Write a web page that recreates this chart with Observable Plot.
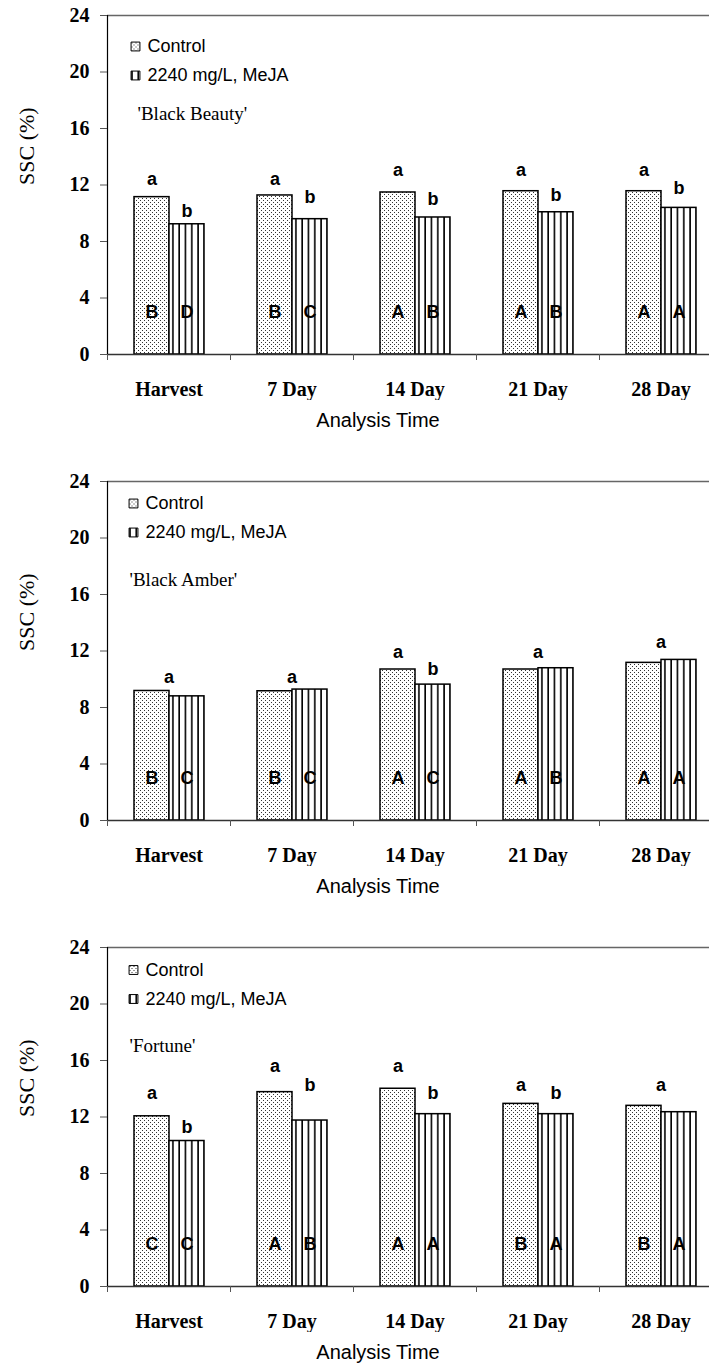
<!DOCTYPE html>
<html><head><meta charset="utf-8">
<script src="https://cdn.jsdelivr.net/npm/d3@7"></script>
<script src="https://cdn.jsdelivr.net/npm/@observablehq/plot@0.6"></script>
<style>
html,body{margin:0;padding:0;background:#fff;overflow:hidden;}
#root{width:709px;}
.panel{position:relative;width:709px;height:466px;overflow:hidden;}
.panel svg{display:block;}
.xtitle{position:absolute;font-family:"Liberation Sans",Arial,sans-serif;font-size:20px;white-space:nowrap;transform:translate(-50%,-50%);color:#000;}
</style></head><body>
<svg width="0" height="0" style="position:absolute">
<defs>
<pattern id="dots" patternUnits="userSpaceOnUse" width="4" height="4">
<rect width="4" height="4" fill="#fff"/>
<rect x="0" y="0" width="1" height="1" fill="#333"/>
<rect x="2" y="2" width="1" height="1" fill="#333"/>
</pattern>
<pattern id="stripes" patternUnits="userSpaceOnUse" width="6.3" height="6">
<rect width="6.3" height="6" fill="#fff"/>
<rect x="2" y="0" width="1.6" height="6" fill="#000"/>
</pattern>
</defs></svg>
<div id="root"></div>
<script>
// ---------- data ----------
const days = ["Harvest", "7 Day", "14 Day", "21 Day", "28 Day"];
const treatments = ["Control", "2240 mg/L, MeJA"];
const cultivars = ["'Black Beauty'", "'Black Amber'", "'Fortune'"];
const yTicks = [0, 4, 8, 12, 16, 20, 24];
const yTitle = "SSC (%)";
const xTitle = "Analysis Time";
const groupLetterLevel = 3; // SSC level where the upper-case letters sit

const bbControl = [11.14, 11.26, 11.47, 11.56, 11.56];
const bbMeja = [9.22, 9.58, 9.70, 10.07, 10.38];
const bbControlGroup = ["B", "B", "A", "A", "A"];
const bbMejaGroup = ["D", "C", "B", "B", "A"];
// [day, treatment index (2 = both), letter, SSC level]
const bbLetters = [
  ["Harvest", 0, "a", 12.44], ["Harvest", 1, "b", 10.12],
  ["7 Day", 0, "a", 12.44], ["7 Day", 1, "b", 11.14],
  ["14 Day", 0, "a", 13.03], ["14 Day", 1, "b", 11.02],
  ["21 Day", 0, "a", 13.03], ["21 Day", 1, "b", 11.26],
  ["28 Day", 0, "a", 13.03], ["28 Day", 1, "b", 11.80]
];

const baControl = [9.17, 9.15, 10.69, 10.69, 11.16];
const baMeja = [8.79, 9.27, 9.62, 10.78, 11.37];
const baControlGroup = ["B", "B", "A", "A", "A"];
const baMejaGroup = ["C", "C", "C", "B", "A"];
const baLetters = [
  ["Harvest", 2, "a", 10.16], ["7 Day", 2, "a", 10.16],
  ["14 Day", 0, "a", 11.94], ["14 Day", 1, "b", 10.71],
  ["21 Day", 2, "a", 11.94], ["28 Day", 2, "a", 12.60]
];

const fControl = [12.05, 13.76, 14.0, 12.93, 12.79];
const fMeja = [10.30, 11.75, 12.2, 12.2, 12.34];
const fControlGroup = ["C", "A", "A", "B", "B"];
const fMejaGroup = ["C", "B", "A", "A", "A"];
const fLetters = [
  ["Harvest", 0, "a", 13.65], ["Harvest", 1, "b", 11.27],
  ["7 Day", 0, "a", 15.59], ["7 Day", 1, "b", 14.24],
  ["14 Day", 0, "a", 15.59], ["14 Day", 1, "b", 13.69],
  ["21 Day", 0, "a", 14.24], ["21 Day", 1, "b", 13.69],
  ["28 Day", 2, "a", 14.24]
];

// ---------- drawing ----------
const SERIF = "'Liberation Serif','Times New Roman',serif";
const SANS = "'Liberation Sans',Arial,sans-serif";
const W = 709, H = 400, ML = 107, MR = -13, MT = 15, MB = 46;
const bw = (W - ML - MR) / days.length;

function panel(ctrl, meja, ctrlG, mejaG, letters, cultivar, lay) {
  const rows = days.flatMap((d, i) => [
    {day: d, trt: treatments[0], v: ctrl[i], g: ctrlG[i]},
    {day: d, trt: treatments[1], v: meja[i], g: mejaG[i]}
  ]);
  const each = letters.filter(l => l[1] !== 2).map(l => ({day: l[0], trt: treatments[l[1]], letter: l[2], at: l[3]}));
  const shared = letters.filter(l => l[1] === 2).map(l => ({day: l[0], letter: l[2], at: l[3]}));
  const first = [{day: days[0]}];
  const txt = {fontFamily: SANS, fontSize: 18, textAnchor: "start", lineAnchor: "middle", fill: "#000"};
  const plot = Plot.plot({
    width: W, height: H,
    marginLeft: ML, marginRight: MR, marginTop: MT, marginBottom: MB,
    fx: {domain: days, padding: 0, label: null, axis: null},
    x: {domain: treatments, paddingInner: 0, paddingOuter: 0.75, axis: null},
    y: {domain: [0, 24], axis: null},
    marks: [
      Plot.barY(rows.filter(r => r.trt === treatments[0]), {fx: "day", x: "trt", y: "v", fill: "url(#dots)", stroke: "#000", strokeWidth: 1.5}),
      Plot.barY(rows.filter(r => r.trt === treatments[1]), {fx: "day", x: "trt", y: "v", fill: "url(#stripes)", stroke: "#000", strokeWidth: 1.5}),
      Plot.ruleY([24], {stroke: "#666", strokeWidth: 1.5}),
      Plot.ruleY([0], {stroke: "#333", strokeWidth: 1.5}),
      Plot.frame({anchor: "left", facetAnchor: "left", stroke: "#000", strokeWidth: 1.2}),
      Plot.axisY({ticks: yTicks, tickSize: 7, tickPadding: 11, label: null, stroke: "#555", fill: "#000",
        fontFamily: SERIF, fontSize: 20, fontWeight: "bold"}),
      Plot.axisFx({anchor: "bottom", tickSize: 0, tickPadding: 27, label: null, fill: "#000",
        fontFamily: SERIF, fontSize: 20, fontWeight: "bold"}),
      Plot.axisFx({anchor: "bottom", tickSize: 6, tickFormat: () => "", dx: -bw / 2, label: null, stroke: "#555"}),
      Plot.text(rows, {fx: "day", x: "trt", y: () => groupLetterLevel, text: "g", fontFamily: SANS, fontSize: 18, fontWeight: "bold", fill: "#000"}),
      Plot.text(each, {fx: "day", x: "trt", y: "at", text: "letter", fontFamily: SANS, fontSize: 18, fontWeight: "bold", fill: "#000"}),
      Plot.text(shared, {fx: "day", y: "at", text: "letter", fontFamily: SANS, fontSize: 18, fontWeight: "bold", fill: "#000"}),
      // legend
      Plot.dot(first, {fx: "day", frameAnchor: "top-left", dx: lay.ix, dy: lay.r1, symbol: "square", r: 5, fill: "url(#dots)", stroke: "#000", strokeWidth: 1}),
      Plot.dot(first, {fx: "day", frameAnchor: "top-left", dx: lay.ix, dy: lay.r2, symbol: "square", r: 5, fill: "url(#stripes)", stroke: "#000", strokeWidth: 1}),
      Plot.text(first, {fx: "day", frameAnchor: "top-left", dx: lay.ix + 12, dy: lay.r1, text: () => treatments[0], ...txt}),
      Plot.text(first, {fx: "day", frameAnchor: "top-left", dx: lay.ix + 12, dy: lay.r2, text: () => treatments[1], ...txt}),
      Plot.text(first, {fx: "day", frameAnchor: "top-left", dx: lay.tx, dy: lay.ty, text: () => cultivar,
        fontFamily: SERIF, fontSize: 19, textAnchor: "start", lineAnchor: "middle", fill: "#000"}),
      Plot.text(first, {fx: "day", frameAnchor: "left", dx: -81, rotate: -90, text: () => yTitle,
        fontFamily: SERIF, fontSize: 22, fill: "#000"})
    ]
  });
  const div = document.createElement("div");
  div.className = "panel";
  div.appendChild(plot);
  const t = document.createElement("div");
  t.className = "xtitle";
  t.textContent = xTitle;
  t.style.left = "378px";
  t.style.top = (H - MB + 66) + "px";
  div.appendChild(t);
  return div;
}

const root = document.getElementById("root");
root.appendChild(panel(bbControl, bbMeja, bbControlGroup, bbMejaGroup, bbLetters, cultivars[0], {ix: 28, r1: 31, r2: 60, tx: 30, ty: 98}));
root.appendChild(panel(baControl, baMeja, baControlGroup, baMejaGroup, baLetters, cultivars[1], {ix: 26, r1: 22, r2: 51, tx: 22, ty: 98}));
root.appendChild(panel(fControl, fMeja, fControlGroup, fMejaGroup, fLetters, cultivars[2], {ix: 26, r1: 22.5, r2: 51.5, tx: 22, ty: 98}));
</script>
</body></html>
